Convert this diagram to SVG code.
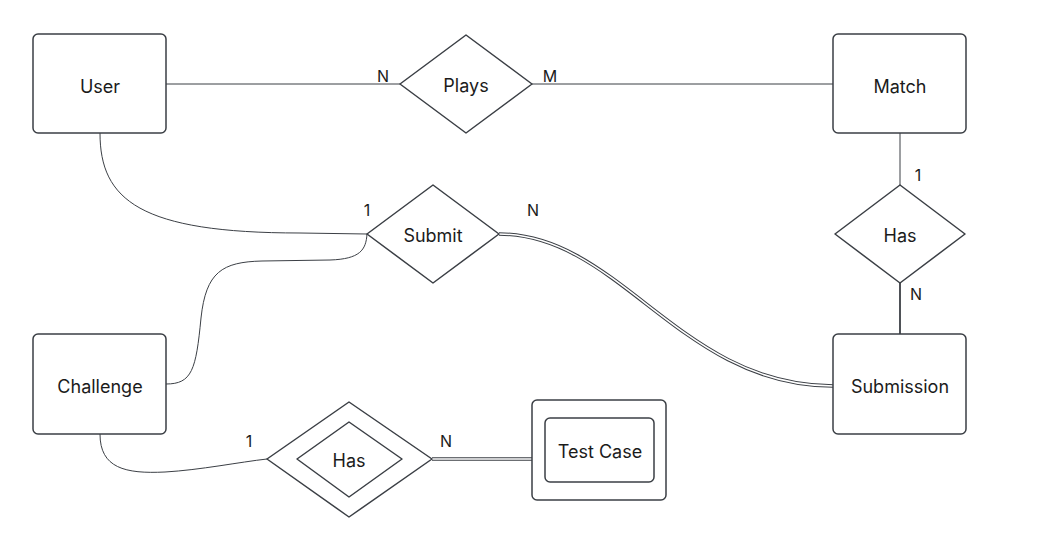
<svg xmlns="http://www.w3.org/2000/svg" width="1050" height="544" viewBox="0 0 1050 544">
<style>
.shape{fill:#fff;stroke:#3b3f45;stroke-width:1.5;stroke-linejoin:round}
.t{font-family:Inter,"Liberation Sans",sans-serif;font-size:18px;fill:#1b1b1b;text-anchor:middle;dominant-baseline:central}
.c{font-family:Inter,"Liberation Sans",sans-serif;font-size:16px;fill:#1b1b1b;text-anchor:middle}
.ln{fill:none;stroke:#3b3f45;stroke-width:1}
.dbl{fill:none;stroke:#3b3f45;stroke-width:3.5}
.dblin{fill:none;stroke:#fff;stroke-width:1.5}
</style>
<rect width="1050" height="544" fill="#fff"/>
<g id="connectors">
<path class="ln" d="M166,84 L400,84"/>
<path class="ln" d="M532,84 L833,84"/>
<path class="ln" d="M900,133 L900,185"/>
<path class="ln" d="M900,283 L900,334" style="stroke-width:1.8"/>
<path class="ln" d="M100,133 C100,200 140,233 300,233 L367,234"/>
<path class="ln" d="M166,384 C192,384 196,370 201,318 C206,272 222,262 262,261 L330,260 C360,259 366,250 367,234"/>
<path class="ln" d="M100,434 C100,468 125,474 165,472 C200,470 240,462 267,459"/>
<path class="dbl" d="M499,234 C620,234 680,386 833,386"/>
<path class="dblin" d="M499,234 C620,234 680,386 833,386"/>
<path class="dbl" d="M432,459 L532,459"/>
<path class="dblin" d="M432,459 L532,459"/>
<text class="c" x="383" y="82">N</text>
<text class="c" x="550" y="82">M</text>
<text class="c" x="918" y="181">1</text>
<text class="c" x="916" y="300">N</text>
<text class="c" x="367" y="216">1</text>
<text class="c" x="533" y="216">N</text>
<text class="c" x="249" y="447">1</text>
<text class="c" x="446" y="447">N</text>
</g>
<g id="user"><rect class="shape" x="33" y="34" width="133" height="99" rx="5"/><text class="t" x="100" y="86">User</text></g>
<g id="plays"><path class="shape" d="M466,35 L532,84 L466,133 L400,84 Z"/><text class="t" x="466" y="85">Plays</text></g>
<g id="match"><rect class="shape" x="833" y="34" width="133" height="99" rx="5"/><text class="t" x="900" y="86">Match</text></g>
<g id="has1"><path class="shape" d="M900,185 L965,234 L900,283 L835,234 Z"/><text class="t" x="900" y="235">Has</text></g>
<g id="submit"><path class="shape" d="M433,185 L499,234 L433,283 L367,234 Z"/><text class="t" x="433" y="235">Submit</text></g>
<g id="submission"><rect class="shape" x="833" y="334" width="133" height="100" rx="5"/><text class="t" x="900" y="386">Submission</text></g>
<g id="challenge"><rect class="shape" x="33" y="334" width="133" height="100" rx="5"/><text class="t" x="100" y="386">Challenge</text></g>
<g id="has2"><path class="shape" d="M349,402 L432,459 L349,517 L267,459 Z"/><path class="shape" d="M349,422 L402,459 L349,497 L297,459 Z"/><text class="t" x="349" y="460">Has</text></g>
<g id="testcase"><rect class="shape" x="532" y="400" width="134" height="100" rx="5"/><rect class="shape" x="545" y="418" width="109" height="64" rx="5"/><text class="t" x="600" y="451">Test Case</text></g>
</svg>
